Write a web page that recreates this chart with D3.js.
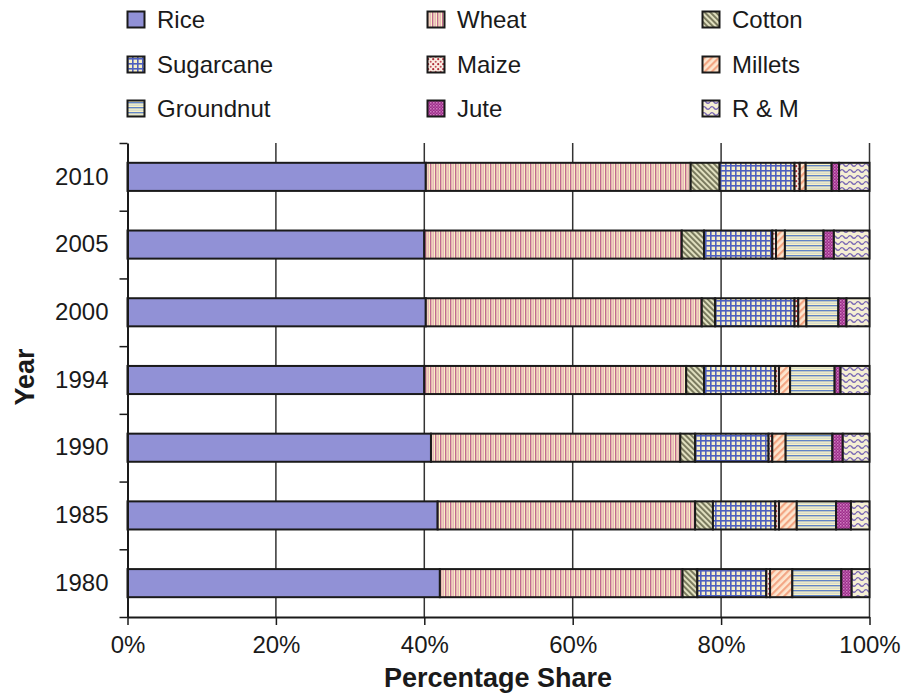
<!DOCTYPE html>
<html>
<head>
<meta charset="utf-8">
<script src="https://cdn.jsdelivr.net/npm/d3@7"></script>
<style>
  html, body { margin: 0; padding: 0; background: #fff; }
  svg { display: block; font-family: "Liberation Sans", Arial, Helvetica, sans-serif; }
</style>
</head>
<body>
<svg id="chart" width="914" height="693"></svg>
<script>
// Share of each crop in the gross cropped value, by year (percent)
const years = ["2010", "2005", "2000", "1994", "1990", "1985", "1980"];
const cropNames = ["Rice", "Wheat", "Cotton", "Sugarcane", "Maize", "Millets", "Groundnut", "Jute", "R & M"];
const rice      = [40.2, 40.0, 40.2, 40.0, 40.9, 41.8, 42.1];
const wheat     = [35.7, 34.7, 37.2, 35.3, 33.6, 34.7, 32.7];
const cotton    = [3.9, 3.0, 1.8, 2.4, 2.0, 2.4, 2.0];
const sugarcane = [10.1, 9.2, 10.7, 9.6, 9.9, 8.4, 9.3];
const maize     = [0.7, 0.5, 0.5, 0.5, 0.5, 0.5, 0.5];
const millets   = [0.8, 1.2, 1.1, 1.5, 1.8, 2.4, 3.0];
const groundnut = [3.5, 5.2, 4.3, 6.0, 6.3, 5.3, 6.6];
const jute      = [1.0, 1.4, 1.1, 0.8, 1.4, 2.0, 1.4];
const rapeMustard = [4.1, 4.8, 3.1, 3.9, 3.6, 2.5, 2.4];
const xTicks = [0, 20, 40, 60, 80, 100];

const seriesValues = [rice, wheat, cotton, sugarcane, maize, millets, groundnut, jute, rapeMustard];
const table = years.map((y, i) => {
  const row = { year: y };
  cropNames.forEach((c, k) => { row[c] = seriesValues[k][i]; });
  return row;
});

const svg = d3.select("#chart");
const defs = svg.append("defs");

function makePattern(id, w, h, bg, transform) {
  const p = defs.append("pattern")
    .attr("id", id)
    .attr("patternUnits", "userSpaceOnUse")
    .attr("width", w).attr("height", h);
  if (transform) p.attr("patternTransform", transform);
  p.append("rect").attr("width", w).attr("height", h).attr("fill", bg);
  return p;
}

// Wheat: vertical mauve stripes
let p = makePattern("pat-wheat", 5, 5, "#fbf1c4");
p.append("rect").attr("x", 0).attr("width", 1.4).attr("height", 5).attr("fill", "#c06a90");
p.append("rect").attr("x", 2.6).attr("width", 1.1).attr("height", 5).attr("fill", "#dea0b4");

// Cotton: dark olive diagonal stripes
p = makePattern("pat-cotton", 4, 4, "#e0dfbf", "rotate(-45)");
p.append("rect").attr("x", 0).attr("width", 1.9).attr("height", 4).attr("fill", "#76765a");

// Sugarcane: blue check
p = makePattern("pat-sugarcane", 5, 5, "#f7f0c8");
p.append("rect").attr("x", 0).attr("width", 1.6).attr("height", 5).attr("fill", "#4e5fbf");
p.append("rect").attr("y", 0).attr("height", 1.6).attr("width", 5).attr("fill", "#4e5fbf");

// Maize: red dots
p = makePattern("pat-maize", 5, 5, "#fbeee4");
p.append("circle").attr("cx", 1.2).attr("cy", 1.2).attr("r", 1.1).attr("fill", "#ad2c38");
p.append("circle").attr("cx", 3.7).attr("cy", 3.7).attr("r", 1).attr("fill", "#c2505a");

// Millets: salmon diagonal stripes
p = makePattern("pat-millets", 5, 5, "#fde6cf", "rotate(45)");
p.append("rect").attr("x", 0).attr("width", 2.2).attr("height", 5).attr("fill", "#f3a684");

// Groundnut: horizontal blue lines
p = makePattern("pat-groundnut", 5, 5, "#faf3c4");
p.append("rect").attr("y", 0).attr("height", 1.4).attr("width", 5).attr("fill", "#6285c6");
p.append("rect").attr("y", 2.7).attr("height", 0.9).attr("width", 5).attr("fill", "#c3cfd2");

// Jute: magenta with light checks
p = makePattern("pat-jute", 3, 3, "#9e2a8a");
p.append("rect").attr("x", 0).attr("y", 0).attr("width", 1.5).attr("height", 1.5).attr("fill", "#cf80c0");
p.append("rect").attr("x", 1.5).attr("y", 1.5).attr("width", 1.5).attr("height", 1.5).attr("fill", "#b55aa6");

// R & M: purple waves
p = makePattern("pat-rm", 8, 6, "#f5efd4");
p.append("path").attr("d", "M0,3 Q2,0.3 4,3 T8,3").attr("fill", "none")
  .attr("stroke", "#7a68b4").attr("stroke-width", 1.4);

const fills = {
  "Rice": "#9191d6",
  "Wheat": "url(#pat-wheat)",
  "Cotton": "url(#pat-cotton)",
  "Sugarcane": "url(#pat-sugarcane)",
  "Maize": "url(#pat-maize)",
  "Millets": "url(#pat-millets)",
  "Groundnut": "url(#pat-groundnut)",
  "Jute": "url(#pat-jute)",
  "R & M": "url(#pat-rm)"
};

// Plot geometry
const plotLeft = 127.5, plotRight = 869.5, plotTop = 143, plotBottom = 617;
const x = d3.scaleLinear().domain([0, 100]).range([plotLeft, plotRight]);
const y = d3.scaleBand().domain(years).range([plotTop, plotBottom])
  .paddingInner(0.585).paddingOuter(0.2925);
const yEdges = d3.scaleLinear().domain([0, years.length]).range([plotTop, plotBottom]);

const ink = "#1a1a1a";
const font = "Liberation Sans, Arial, sans-serif";

// Vertical gridlines
svg.append("g")
  .selectAll("line")
  .data(xTicks.filter(t => t > 0))
  .join("line")
  .attr("x1", d => x(d)).attr("x2", d => x(d))
  .attr("y1", plotTop).attr("y2", plotBottom)
  .attr("stroke", "#333").attr("stroke-width", 1.5);

// Stacked bars
const stacked = d3.stack().keys(cropNames)(table);
svg.append("g")
  .selectAll("g")
  .data(stacked)
  .join("g")
  .attr("fill", d => fills[d.key])
  .selectAll("rect")
  .data(d => d)
  .join("rect")
  .attr("x", d => x(d[0]))
  .attr("width", d => x(d[1]) - x(d[0]))
  .attr("y", d => y(d.data.year))
  .attr("height", y.bandwidth())
  .attr("stroke", ink)
  .attr("stroke-width", 2);

// X axis
const xAxis = svg.append("g")
  .attr("transform", `translate(0,${plotBottom})`)
  .call(d3.axisBottom(x).tickValues(xTicks).tickFormat(d => d + "%").tickSize(8).tickSizeOuter(0));
xAxis.select(".domain").attr("stroke", ink).attr("stroke-width", 2);
xAxis.selectAll(".tick line").attr("stroke", ink).attr("stroke-width", 1.5);
xAxis.selectAll(".tick text").attr("fill", ink).attr("font-size", 24)
  .attr("font-family", font).attr("dy", "0.95em").attr("y", 13);

// Y axis: tick marks at band edges, labels at band centres
const yTickAxis = svg.append("g")
  .attr("transform", `translate(${plotLeft},0)`)
  .call(d3.axisLeft(yEdges).ticks(years.length).tickFormat("").tickSize(8).tickSizeOuter(0));
yTickAxis.select(".domain").attr("stroke", ink).attr("stroke-width", 2);
yTickAxis.selectAll(".tick line").attr("stroke", ink).attr("stroke-width", 1.5);

const yLabelAxis = svg.append("g")
  .attr("transform", `translate(${plotLeft},0)`)
  .call(d3.axisLeft(y).tickSize(0).tickPadding(19));
yLabelAxis.select(".domain").remove();
yLabelAxis.selectAll(".tick text").attr("fill", ink).attr("font-size", 24)
  .attr("font-family", font);

// Axis titles
svg.append("text")
  .attr("x", 498).attr("y", 687)
  .attr("text-anchor", "middle")
  .attr("font-size", 27).attr("font-weight", "bold").attr("fill", ink)
  .text("Percentage Share");

svg.append("text")
  .attr("transform", "translate(34,377) rotate(-90)")
  .attr("text-anchor", "middle")
  .attr("font-size", 27).attr("font-weight", "bold").attr("fill", ink)
  .text("Year");

// Legend: three columns, three rows
const legendCols = [127, 427, 702];
const legendBaselines = [28, 73, 117];
const legend = svg.append("g")
  .selectAll("g")
  .data(cropNames)
  .join("g")
  .attr("transform", (d, i) => `translate(${legendCols[i % 3]},${legendBaselines[Math.floor(i / 3)]})`);
legend.append("rect")
  .attr("x", 0.5).attr("y", -16.5).attr("width", 17).attr("height", 16)
  .attr("fill", d => fills[d]).attr("stroke", ink).attr("stroke-width", 2);
legend.append("text")
  .attr("x", 30).attr("y", 0)
  .attr("font-size", 24).attr("fill", ink)
  .text(d => d);
</script>
</body>
</html>
